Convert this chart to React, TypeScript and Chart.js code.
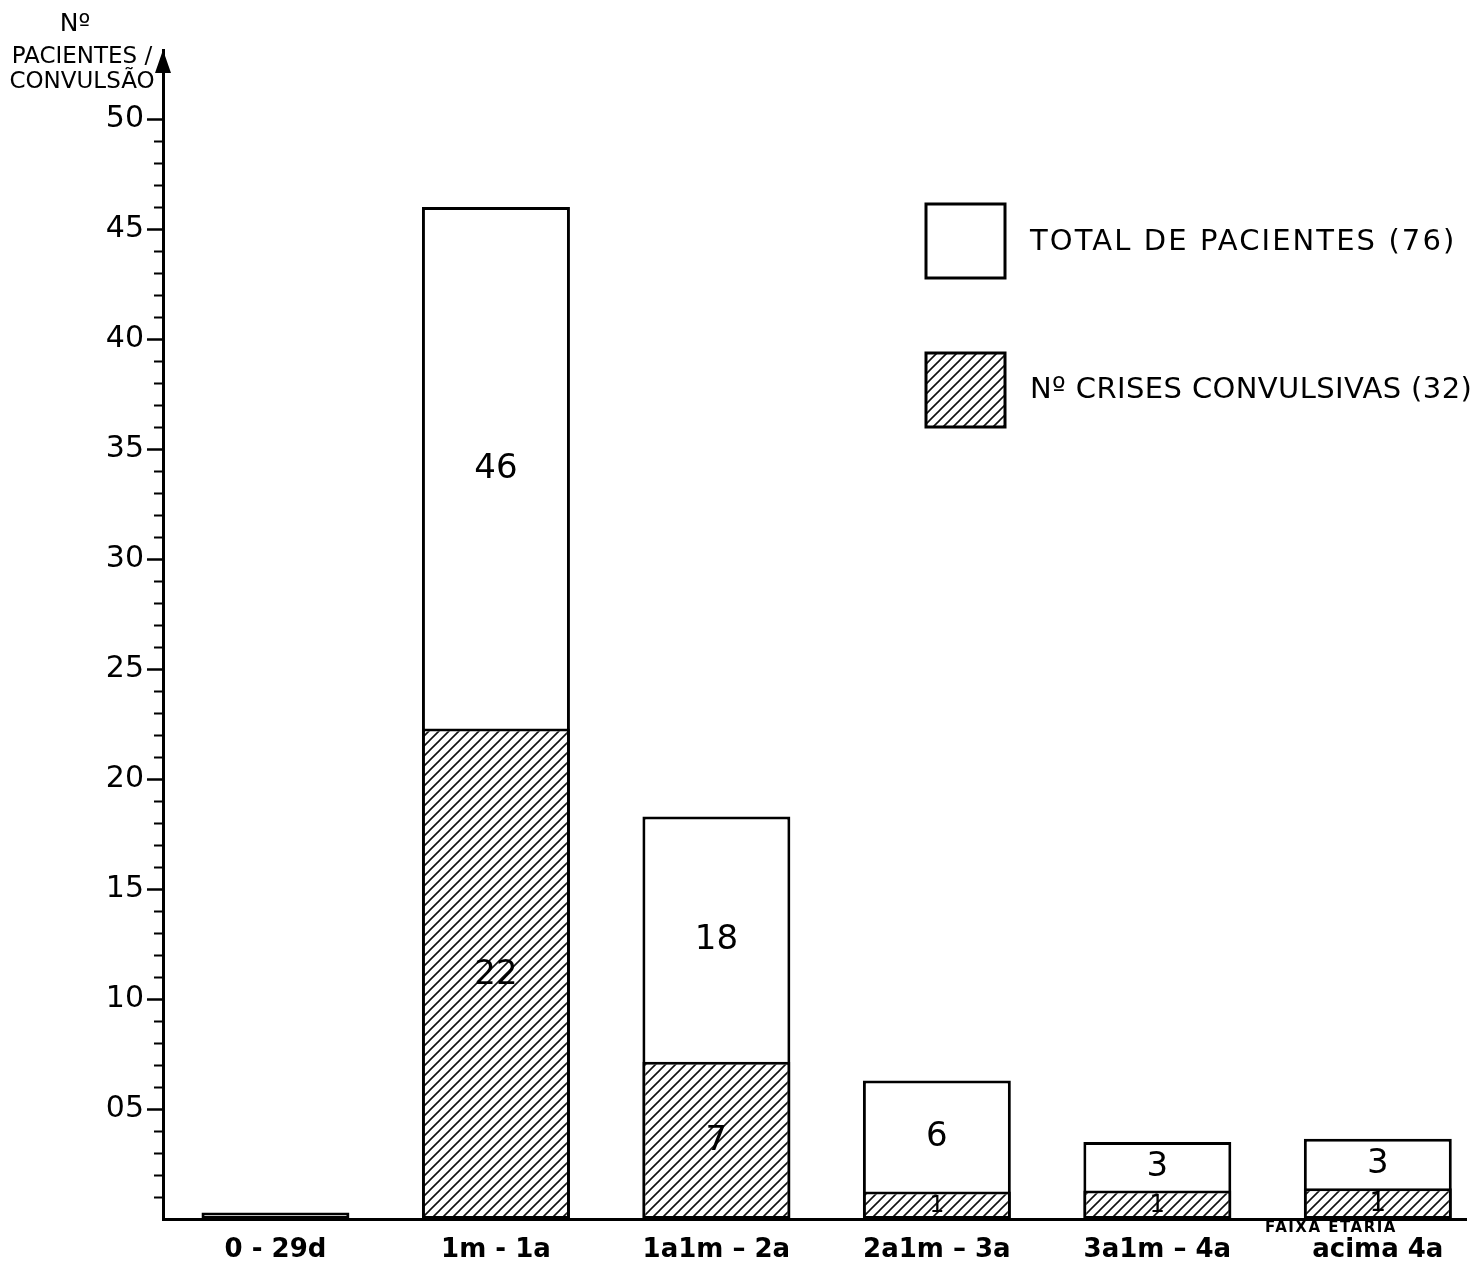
import React, { useEffect, useRef } from 'react';
import { Chart, registerables } from 'chart.js';

Chart.register(...registerables);

const categories = ['0 - 29d', '1m - 1a', '1a1m – 2a', '2a1m – 3a', '3a1m – 4a', 'acima 4a'];
const totalPatients = [0.3, 46, 18.3, 6.3, 3.5, 3.65];
const convulsiveCrises = [0, 22.3, 7.15, 1.25, 1.3, 1.4];
const totalLabels = ['', '46', '18', '6', '3', '3'];
const crisesLabels = ['', '22', '7', '1', '1', '1'];
const yTickValues = [5, 10, 15, 20, 25, 30, 35, 40, 45, 50];
const yTickLabels = ['05', '10', '15', '20', '25', '30', '35', '40', '45', '50'];
const legendLabels = ['TOTAL DE PACIENTES (76)', 'Nº CRISES CONVULSIVAS (32)'];
const yTitleLines = ['Nº', 'PACIENTES /', 'CONVULSÃO'];
const xTitle = 'FAIXA ETÁRIA';

const FONT = "'DejaVu Sans', sans-serif";

export default function App() {
  const ref = useRef<HTMLCanvasElement>(null);

  useEffect(() => {
    const canvas = ref.current!;
    const s = 10;
    const tile = document.createElement('canvas');
    tile.width = s;
    tile.height = s;
    const t = tile.getContext('2d')!;
    t.fillStyle = '#fff';
    t.fillRect(0, 0, s, s);
    t.strokeStyle = '#111';
    t.lineWidth = 1.6;
    t.beginPath();
    t.moveTo(-2, s + 2);
    t.lineTo(s + 2, -2);
    t.moveTo(-2, 2);
    t.lineTo(2, -2);
    t.moveTo(s - 2, s + 2);
    t.lineTo(s + 2, s - 2);
    t.stroke();
    const hatch = canvas.getContext('2d')!.createPattern(tile, 'repeat')!;

    const decorations = {
      id: 'decorations',
      afterDatasetsDraw(chart: any) {
        const c = chart.ctx as CanvasRenderingContext2D;
        const totMeta = chart.getDatasetMeta(0);
        const criMeta = chart.getDatasetMeta(1);
        c.save();
        c.fillStyle = '#000';
        c.textAlign = 'center';
        c.textBaseline = 'middle';
        const draw = (txt: string, x: number, y: number, h: number) => {
          if (!txt) return;
          const size = Math.min(34, h * 0.85);
          c.font = `${size}px ${FONT}`;
          c.fillText(txt, x, y + 1);
        };
        categories.forEach((_, i) => {
          const tb = totMeta.data[i] as any;
          const cb = criMeta.data[i] as any;
          const base = cb.base;
          draw(totalLabels[i], tb.x, (tb.y + cb.y) / 2, cb.y - tb.y);
          draw(crisesLabels[i], cb.x, (cb.y + base) / 2, base - cb.y);
        });
        c.restore();
      },
      afterDraw(chart: any) {
        const c = chart.ctx as CanvasRenderingContext2D;
        const ys = chart.scales.y;
        const area = chart.chartArea;
        const left = area.left;
        c.save();
        // arrow
        c.fillStyle = '#000';
        c.beginPath();
        c.moveTo(left, area.top);
        c.lineTo(left - 8, area.top + 23);
        c.lineTo(left + 8, area.top + 23);
        c.closePath();
        c.fill();
        // minor ticks
        c.strokeStyle = '#000';
        c.lineWidth = 2.2;
        c.beginPath();
        for (let v = 1; v < 50; v++) {
          if (v % 5 === 0) continue;
          const y = Math.round(ys.getPixelForValue(v)) + 0.5;
          c.moveTo(left - 9, y);
          c.lineTo(left, y);
        }
        c.stroke();
        // y title
        c.textAlign = 'center';
        c.textBaseline = 'middle';
        c.font = `25px ${FONT}`;
        c.fillText(yTitleLines[0], 75, 24);
        c.font = `23px ${FONT}`;
        c.fillText(yTitleLines[1], 82, 57);
        c.fillText(yTitleLines[2], 82, 82);
        // legend
        const boxes = [
          { y: 204, fill: '#fff' as any, spacing: '2.1px', ty: 242 },
          { y: 353, fill: hatch as any, spacing: '0.4px', ty: 390 },
        ];
        boxes.forEach((b, i) => {
          c.fillStyle = b.fill;
          c.fillRect(926, b.y, 79, 74);
          c.strokeStyle = '#000';
          c.lineWidth = 3;
          c.strokeRect(926, b.y, 79, 74);
          c.fillStyle = '#000';
          c.textAlign = 'left';
          c.textBaseline = 'middle';
          c.font = `29px ${FONT}`;
          (c as any).letterSpacing = b.spacing;
          c.fillText(legendLabels[i], 1030, b.ty);
          (c as any).letterSpacing = '0px';
        });
        // x title
        c.font = `bold 15px ${FONT}`;
        c.textAlign = 'center';
        (c as any).letterSpacing = '1.5px';
        c.fillText(xTitle, 1331, 1228);
        (c as any).letterSpacing = '0px';
        c.restore();
      },
    };

    const chart = new Chart(canvas, {
      type: 'bar',
      data: {
        datasets: [
          {
            label: legendLabels[0],
            data: totalPatients.map((v, i) => ({ x: i, y: v })),
            backgroundColor: '#fff',
            borderColor: '#000',
            borderWidth: 3,
            borderSkipped: false,
            grouped: false,
            order: 2,
            barPercentage: 0.671,
            categoryPercentage: 1,
          } as any,
          {
            label: legendLabels[1],
            data: convulsiveCrises.map((v, i) => ({ x: i, y: v })),
            backgroundColor: hatch,
            borderColor: '#000',
            borderWidth: 3,
            borderSkipped: false,
            grouped: false,
            order: 1,
            barPercentage: 0.671,
            categoryPercentage: 1,
          } as any,
        ],
      },
      options: {
        animation: false,
        responsive: true,
        maintainAspectRatio: false,
        layout: { padding: { top: 50, right: 14, bottom: 0, left: 0 } },
        plugins: { legend: { display: false }, tooltip: { enabled: false } },
        scales: {
          x: {
            type: 'linear',
            offset: false,
            min: -0.51,
            max: 5.4,
            afterBuildTicks: (scale: any) => {
              scale.ticks = categories.map((_, i) => ({ value: i }));
            },
            afterFit: (scale: any) => {
              scale.height = 45;
            },
            ticks: {
              callback: (v: any) => categories[v] ?? '',
              font: { family: FONT, size: 26, weight: 'bold' },
              color: '#000',
              padding: 16,
              maxRotation: 0,
              autoSkip: false,
            },
            grid: { display: false, drawTicks: false },
            border: { display: true, color: '#000', width: 3 },
          },
          y: {
            type: 'linear',
            min: 0,
            max: 53.14,
            afterBuildTicks: (scale: any) => {
              scale.ticks = yTickValues.map((v) => ({ value: v }));
            },
            afterFit: (scale: any) => {
              scale.width = 163;
            },
            ticks: {
              callback: (v: any) => yTickLabels[yTickValues.indexOf(v)] ?? '',
              font: { family: FONT, size: 30 },
              color: '#000',
              padding: 3,
            },
            grid: {
              drawOnChartArea: false,
              drawTicks: true,
              tickLength: 16,
              tickWidth: 2.5,
              tickColor: '#000',
            },
            border: { display: true, color: '#000', width: 3 },
          },
        },
      } as any,
      plugins: [decorations],
    });

    return () => chart.destroy();
  }, []);

  return (
    <div style={{ position: 'absolute', left: 0, top: 0, width: '1480px', height: '1264px', background: '#fff' }}>
      <canvas ref={ref} />
    </div>
  );
}
